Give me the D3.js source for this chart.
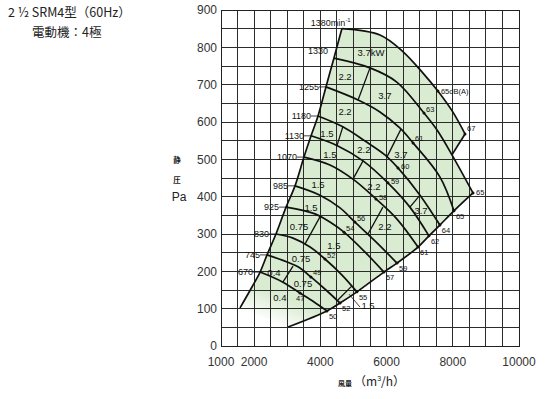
<!DOCTYPE html>
<html>
<head>
<meta charset="utf-8">
<script src="https://cdn.jsdelivr.net/npm/d3@7"></script>
<style>
body { margin: 0; background: #fff; }
svg { display: block; font-family: "Liberation Sans", Arial, sans-serif; }
.jp { font-family: "Noto Sans CJK JP", sans-serif; }
</style>
</head>
<body>
<script>
const width = 549;
const height = 399;

// fan speeds (min-1), top curve first
const speeds = [1380, 1330, 1255, 1180, 1130, 1070, 985, 925, 830, 745, 670];

// speed curves: [air volume m3/h, static pressure Pa]
const c1380 = [[4650, 850], [5800, 833], [6500, 788], [7100, 731], [7550, 683], [8000, 627], [8370, 568]];
const c1330 = [[4410, 771], [5500, 745], [6310, 707], [7130, 624], [7520, 579], [7975, 512], [8610, 410]];
const c1255 = [[4170, 694], [5140, 659], [5800, 627], [6400, 584], [6800, 544], [7610, 453], [8035, 362]];
const c1180 = [[3930, 616], [4680, 587], [5350, 549], [5950, 512], [6345, 477], [7010, 404], [7610, 324]];
const c1130 = [[3720, 563], [4530, 536], [5290, 496], [6040, 437], [6705, 372], [7280, 295]];
const c1070 = [[3505, 506], [4290, 485], [4985, 447], [5680, 394], [6315, 340], [6950, 265]];
const c985 = [[3235, 429], [3990, 404], [4595, 370], [5045, 332], [5680, 279], [6315, 222]];
const c925 = [[2965, 372], [3840, 354], [4290, 332], [4715, 305], [5345, 252], [5920, 198]];
const c830 = [[2660, 300], [3175, 289], [3690, 265], [4140, 233], [4655, 190], [5105, 145]];
const c745 = [[2390, 244], [2995, 225], [3385, 209], [3715, 185], [4170, 150], [4595, 115]];
const c670 = [[2180, 198], [2870, 171], [3385, 142], [3810, 118], [4200, 94]];
const curves = [c1380, c1330, c1255, c1180, c1130, c1070, c985, c925, c830, c745, c670];

// surge limit (left edge) and max flow limit (right edge)
const surge = [[1575, 102], [1935, 158], [2180, 198], [2390, 244], [2660, 300], [2965, 372], [3235, 429],
  [3505, 506], [3720, 563], [3930, 616], [4170, 694], [4410, 771], [4650, 850]];
const maxFlow = [[3025, 51], [4200, 94], [4595, 115], [5105, 145], [5920, 198], [6315, 222], [6950, 265],
  [7280, 295], [7610, 324], [8035, 362], [8610, 410]];
const notch = [[8370, 568], [7975, 512]];

// noise dB(A)
const midDb = [65, 63, 61, 60, 59, 58, 56, 54, 52, 49, 47];
const midPts = [[7550, 683], [7130, 624], [6800, 544], [6345, 477], [6040, 437], [5680, 394], [5045, 332],
  [4715, 305], [4140, 233], [3715, 185], [3385, 142]];
const endDb = [67, 65, 65, 64, 62, 61, 59, 57, 55, 52, 50];

// motor kW zones
const kwSeps = [
  [[5500, 745], [5140, 659]],
  [[6435, 581], [6010, 506]],
  [[4680, 587], [4500, 536]],
  [[7010, 404], [6705, 372]],
  [[5290, 496], [4985, 447]],
  [[5890, 372], [5440, 300]],
  [[3990, 346], [3535, 273]],
  [[4955, 161], [4530, 123]],
  [[3175, 214], [2870, 171]]
];
const kwText = ['3.7kW', '2.2', '3.7', '2.2', '1.5', '2.2', '3.7', '1.5', '2.2', '1.5', '3.7', '2.2',
  '1.5', '0.75', '1.5', '0.75', '0.4', '0.75', '0.4', '1.5'];
const kwPos = [[5530, 785], [4745, 721], [5950, 670], [4745, 627], [4200, 568], [5317, 525], [6435, 512],
  [4290, 514], [5620, 428], [3930, 431], [7040, 362], [5950, 319], [3720, 370], [3355, 319], [4410, 268],
  [3415, 233], [2600, 196], [3475, 166], [2780, 129], [5440, 107]];
const kwLeader = [[5440, 107], [4865, 139]];

const xTicks = [1000, 2000, 4000, 6000, 8000, 10000];
const yTicks = [0, 100, 200, 300, 400, 500, 600, 700, 800, 900];

const svg = d3.select('body').append('svg')
  .attr('width', width)
  .attr('height', height);

const x = d3.scaleLinear().domain([1000, 10000]).range([221, 519]);
const y = d3.scaleLinear().domain([0, 900]).range([346, 10]);

const line = d3.line()
  .x(d => x(d[0]))
  .y(d => y(d[1]))
  .curve(d3.curveCatmullRom.alpha(0.5));

// fade at the lower left edge of the zone
const defs = svg.append('defs');
const grad = defs.append('linearGradient')
  .attr('id', 'fade')
  .attr('gradientUnits', 'userSpaceOnUse')
  .attr('x1', x(surge[0][0]) + 24).attr('y1', y(surge[0][1]) + 10)
  .attr('x2', x(surge[0][0]) + 34).attr('y2', y(surge[0][1]) - 14);
grad.append('stop').attr('offset', 0).attr('stop-color', '#d9ebd0').attr('stop-opacity', 0.1);
grad.append('stop').attr('offset', 1).attr('stop-color', '#d9ebd0').attr('stop-opacity', 1);

// operating zone
const joinPaths = parts => parts.map((p, i) => i === 0 ? p : p.replace(/^M/, 'L')).join('') + 'Z';
const zone = joinPaths([
  line(surge),
  line(c1380),
  'M' + x(notch[1][0]) + ',' + y(notch[1][1]),
  line(c1330.slice(5)),
  line(maxFlow.slice().reverse())
]);
svg.append('path').attr('d', zone).attr('fill', 'url(#fade)');

// grid
const grid = svg.append('g')
  .attr('stroke', '#2b2b2b')
  .attr('stroke-width', 1)
  .attr('shape-rendering', 'crispEdges');
grid.selectAll('line.v')
  .data(d3.range(1000, 10001, 500))
  .enter().append('line')
  .attr('x1', d => x(d)).attr('x2', d => x(d))
  .attr('y1', y(0)).attr('y2', y(900));
grid.selectAll('line.h')
  .data(d3.range(0, 901, 50))
  .enter().append('line')
  .attr('x1', x(1000)).attr('x2', x(10000))
  .attr('y1', d => y(d)).attr('y2', d => y(d));

// curves
const ink = svg.append('g').attr('fill', 'none').attr('stroke', '#111').attr('stroke-linejoin', 'round');
ink.selectAll('path.speed')
  .data(curves)
  .enter().append('path')
  .attr('d', d => line(d))
  .attr('stroke-width', 1.7);
ink.append('path').attr('d', line(surge)).attr('stroke-width', 1.7);
ink.append('path').attr('d', line(maxFlow)).attr('stroke-width', 1.7);
ink.append('path').attr('d', line(notch)).attr('stroke-width', 1.7);
ink.selectAll('path.sep')
  .data(kwSeps)
  .enter().append('path')
  .attr('d', d => line(d))
  .attr('stroke-width', 1.3);
ink.append('path').attr('d', d3.line()([[x(kwLeader[0][0]) - 8, y(kwLeader[0][1]) + 1], [x(kwLeader[1][0]), y(kwLeader[1][1])]]))
  .attr('stroke-width', 0.8);

// speed labels
const spd = svg.append('g').attr('font-size', 9).attr('fill', '#111');
curves.forEach((c, i) => {
  const sx = x(c[0][0]), sy = y(c[0][1]);
  if (i === 0) {
    const t = spd.append('text').attr('x', sx - 31).attr('y', sy - 3);
    t.append('tspan').text(speeds[i] + 'min');
    t.append('tspan').attr('font-size', 6).attr('dy', -4).text('-1');
  } else if (i === 1) {
    spd.append('text').attr('x', sx - 6).attr('y', sy - 4).attr('text-anchor', 'end').text(speeds[i]);
  } else {
    spd.append('text').attr('x', sx - 7).attr('y', sy + 3.2).attr('text-anchor', 'end').text(speeds[i]);
    spd.append('line').attr('x1', sx - 7).attr('x2', sx).attr('y1', sy).attr('y2', sy)
      .attr('stroke', '#111').attr('stroke-width', 0.8);
  }
});

// kW labels
svg.append('g').attr('font-size', 9.5).attr('fill', '#111').attr('text-anchor', 'middle')
  .selectAll('text')
  .data(kwText)
  .enter().append('text')
  .attr('x', (d, i) => x(kwPos[i][0]))
  .attr('y', (d, i) => y(kwPos[i][1]) + 3.4)
  .text(d => d);

// dB markers
const db = svg.append('g').attr('font-size', 7.5).attr('fill', '#111');
midPts.forEach((p, i) => {
  db.append('circle').attr('cx', x(p[0])).attr('cy', y(p[1])).attr('r', 1.5);
  const t = db.append('text').text(i === 0 ? midDb[i] + 'dB(A)' : midDb[i]);
  if (i === 0) t.attr('x', x(p[0]) + 3).attr('y', y(p[1]) + 2.5);
  else if (i >= 3 && i <= 5) t.attr('x', x(p[0]) + 3).attr('y', y(p[1]) + 1);
  else if (i === midDb.length - 1) t.attr('x', x(p[0]) - 4).attr('y', y(p[1]) + 8);
  else t.attr('x', x(p[0]) + 2).attr('y', y(p[1]) - 1.5);
});
curves.forEach((c, i) => {
  const p = c[c.length - 1];
  db.append('circle').attr('cx', x(p[0])).attr('cy', y(p[1])).attr('r', 1.5);
  const t = db.append('text').text(endDb[i]);
  if (i === 0) t.attr('x', x(p[0]) + 2).attr('y', y(p[1]) - 3);
  else if (i === 1) t.attr('x', x(p[0]) + 3).attr('y', y(p[1]) + 2.5);
  else t.attr('x', x(p[0]) + 2).attr('y', y(p[1]) + 8);
});

// frame and axes
svg.append('rect')
  .attr('x', x(1000)).attr('y', y(900))
  .attr('width', x(10000) - x(1000)).attr('height', y(0) - y(900))
  .attr('fill', 'none').attr('stroke', '#222').attr('stroke-width', 1)
  .attr('shape-rendering', 'crispEdges');

svg.append('g').attr('font-size', 12).attr('fill', '#333').attr('text-anchor', 'end')
  .selectAll('text')
  .data(yTicks)
  .enter().append('text')
  .attr('x', x(1000) - 4)
  .attr('y', d => y(d) + 4.3)
  .text(d => d);

svg.append('g').attr('font-size', 12).attr('fill', '#333').attr('text-anchor', 'middle')
  .selectAll('text')
  .data(xTicks)
  .enter().append('text')
  .attr('x', d => x(d))
  .attr('y', y(0) + 20)
  .text(d => d);

// axis titles
const yt = svg.append('g').attr('fill', '#222');
yt.append('text').attr('class', 'jp').attr('x', 177).attr('y', 163).attr('font-size', 7.5).attr('font-weight', 'bold').attr('text-anchor', 'middle').text('静');
yt.append('text').attr('class', 'jp').attr('x', 177).attr('y', 183).attr('font-size', 7.5).attr('font-weight', 'bold').attr('text-anchor', 'middle').text('圧');
yt.append('text').attr('x', 179).attr('y', 201).attr('font-size', 12).attr('text-anchor', 'middle').text('Pa');

const xt = svg.append('text').attr('x', 338).attr('y', 386).attr('fill', '#222');
xt.append('tspan').attr('class', 'jp').attr('font-size', 7).attr('font-weight', 'bold').text('風量');
xt.append('tspan').attr('class', 'jp').attr('font-size', 12).attr('dx', 2).text('（m');
xt.append('tspan').attr('font-size', 7).attr('dy', -5).text('3');
xt.append('tspan').attr('class', 'jp').attr('font-size', 12).attr('dy', 5).text('/h）');

// title
const title = svg.append('g').attr('class', 'jp').attr('fill', '#222').attr('font-size', 12.5);
title.append('text').attr('x', 8).attr('y', 17).text('2 ½ SRM4型（60Hz）');
title.append('text').attr('x', 32).attr('y', 37).text('電動機：4極');
</script>
</body>
</html>
